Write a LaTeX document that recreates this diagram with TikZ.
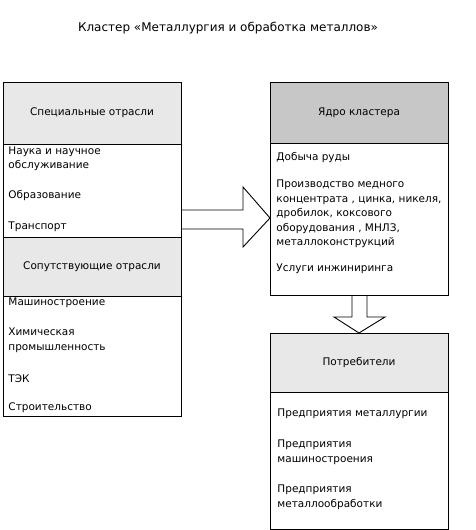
\documentclass[tikz,border=0pt]{standalone}
\usepackage{fontspec}
\setmainfont{DejaVu Sans}
\tikzset{
	every node/.style={font=\fontsize{10.5}{14.5}\selectfont},
	every path/.style={line width=0.9pt},
	head/.style={draw,fill=black!9,minimum width=178pt,minimum height=#1,inner sep=0pt},
	body/.style={draw,minimum width=178pt,minimum height=#1,inner sep=0pt},
	item/.style={anchor=west,align=left,inner sep=0pt},
}
\begin{document}
\begin{tikzpicture}[x=1pt,y=-1pt]
\useasboundingbox (0,0) rectangle (475,530);
%%% Title
\node[inner sep=0pt,font=\fontsize{12}{14}\selectfont] (title) at (228,28) {Кластер «Металлургия и обработка металлов»};
%%% Left column: special and related branches
\node[head=62pt] (spech) at (92,113) {Специальные отрасли};
\node[body=93pt] (specb) at (92,190.5) {};
\node[head=59pt] (soph) at (92,266.5) {Сопутствующие отрасли};
\node[body=120pt] (sopb) at (92,356) {};
\foreach \t/\y [count=\i] in {{Наука и научное\\обслуживание}/159,Образование/196,Транспорт/227}
{
	\node[item] (spec-\i) at (8,\y) {\t};
}
\foreach \t/\y [count=\i] in {Машиностроение/303,{Химическая\\промышленность}/340.5,ТЭК/379,Строительство/408}
{
	\node[item] (sop-\i) at (8,\y) {\t};
}
%%% Core of the cluster
\node[head=61pt,fill=black!22] (coreh) at (359,112.5) {Ядро кластера};
\node[body=152pt] (coreb) at (359,219) {};
\foreach \t/\y [count=\i] in {Добыча руды/158,{Производство медного\\концентрата , цинка, никеля,\\дробилок, коксового\\оборудования , МНЛЗ,\\металлоконструкций}/214,Услуги инжиниринга/269}
{
	\node[item] (core-\i) at (276,\y) {\t};
}
%%% Consumers
\node[head=59pt] (consh) at (359,362.5) {Потребители};
\node[body=137pt] (consb) at (359,460.5) {};
\foreach \t/\y [count=\i] in {Предприятия металлургии/414,{Предприятия\\машиностроения}/452.5,{Предприятия\\металлообработки}/497.5}
{
	\node[item] (cons-\i) at (277,\y) {\t};
}
%%% Block arrows
\draw[] (181,210) -- (243,210) -- (243,187) -- (270,218) -- (243,247) -- (243,229) -- (181,229);
\draw[] (352,295) -- (352,317) -- (334,317) -- (359,333) -- (385,317) -- (367,317) -- (367,295);
\end{tikzpicture}
\end{document}
